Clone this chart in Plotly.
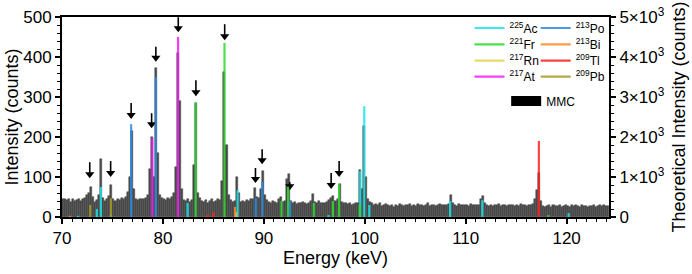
import plotly.graph_objects as go

# ---------------- MMC histogram (counts), bins of 0.2 keV starting at 70.0 keV ----------------
mmc_start = 70.1
mmc_bin = 0.2
mmc_counts = [
    44, 46, 42, 45, 38, 44, 41, 43, 46, 40,      # 70-72
    45, 48, 56, 60, 75, 50, 38, 42, 55, 145,     # 72-74
    48, 40, 45, 52, 80, 45, 40, 46, 42, 48,      # 74-76
    44, 50, 62, 100, 215, 70, 45, 42, 46, 44,    # 76-78
    45, 48, 55, 120, 200, 100, 372, 160, 55, 48, # 78-80
    45, 42, 48, 44, 50, 60, 125, 410, 290, 70,   # 80-82
    42, 40, 46, 38, 42, 130, 285, 60, 48, 40,    # 82-84
    38, 42, 36, 40, 44, 38, 40, 44, 42, 90,      # 84-86
    362, 180, 55, 42, 38, 40, 100, 60, 38, 40,   # 86-88
    38, 42, 40, 44, 46, 72, 50, 48, 70, 115,     # 88-90
    55, 42, 38, 36, 40, 38, 36, 45, 50, 38,      # 90-92
    40, 95, 107, 40, 36, 38, 32, 36, 34, 38,     # 92-94
    35, 32, 36, 40, 57, 38, 36, 40, 36, 34,      # 94-96
    36, 38, 42, 48, 52, 40, 45, 82, 38, 34,      # 96-98
    36, 32, 34, 30, 32, 34, 36, 118, 70, 227,    # 98-100
    100, 45, 38, 34, 30, 32, 30, 34, 28, 30,     # 100-102
    32, 30, 28, 30, 26, 30, 28, 32, 30, 28,      # 102-104
    31, 29, 33, 28, 30, 27, 32, 29, 31, 28,      # 104-106
    30, 34, 28, 29, 31, 27, 30, 33, 29, 31,      # 106-108
    30, 32, 55, 35, 30, 28, 32, 30, 29, 31,      # 108-110
    30, 28, 32, 30, 29, 31, 30, 45, 52, 35,      # 110-112
    30, 28, 31, 27, 29, 30, 32, 28, 30, 29,      # 112-114
    28, 30, 29, 31, 27, 30, 28, 32, 29, 30,      # 114-116
    28, 30, 29, 32, 45, 67, 110, 40, 28, 26,     # 116-118
    27, 29, 26, 30, 28, 27, 29, 26, 28, 30,      # 118-120
    28, 26, 29, 27, 30, 28, 26, 29, 27, 28,      # 120-122
    26, 28, 27, 29, 26, 28, 30, 27, 29, 28,      # 122-124
    27,
]

# ---------------- Theoretical lines (energy keV, intensity counts) ----------------
ac225_E = [71.6, 73.45, 73.85, 74.85, 82.45, 87.4, 96.4, 99.55, 99.95, 100.45, 108.45, 111.65, 120.2]
ac225_I = [30, 200, 750, 60, 350, 670, 50, 1150, 2770, 300, 400, 420, 100]
fr221_E = [83.25, 86.1, 91.75, 92.4, 94.95, 96.85, 97.45, 99.5, 118.2]
fr221_I = [2850, 4350, 400, 760, 350, 400, 820, 300, 50]
rn217_E = [87.25]
rn217_I = [120]
at217_E = [78.95, 81.5]
at217_I = [1980, 4500]
po213_E = [76.85, 79.3, 89.2, 89.85, 92.6]
po213_I = [2320, 3500, 470, 880, 400]
bi213_E = [70.8, 87.15]
bi213_I = [30, 250]
tl209_E = [84.45, 85.0, 117.25]
tl209_I = [60, 120, 1900]
pb209_E = [72.8, 74.85]
pb209_I = [300, 470]

# ---------------- Arrows (energy keV, tip height counts, shaft length px) ----------------
arrow_E = [72.75, 74.82, 76.85, 78.88, 79.3, 81.52, 83.27, 86.12, 89.17, 89.83, 92.57, 96.67, 97.46]
arrow_tip = [97, 100, 245, 222, 388, 462, 302, 442, 85, 132, 67, 70, 100]
arrow_len = [16, 16, 16, 15, 15, 15, 16, 16, 15, 15, 8, 16, 16]

# name, energies, intensities, colour, legend id, legend x, legend row centre (paper)
isotopes = [
    ("<sup>225</sup>Ac", ac225_E, ac225_I, "#19E6EC", "legend", 0.745, 0.945),
    ("<sup>221</sup>Fr", fr221_E, fr221_I, "#2EDB2E", "legend2", 0.745, 0.863),
    ("<sup>217</sup>Rn", rn217_E, rn217_I, "#E6D24A", "legend3", 0.745, 0.782),
    ("<sup>217</sup>At", at217_E, at217_I, "#F41CF4", "legend4", 0.745, 0.702),
    ("<sup>213</sup>Po", po213_E, po213_I, "#2A8AE0", "legend5", 0.866, 0.945),
    ("<sup>213</sup>Bi", bi213_E, bi213_I, "#FF8A2A", "legend6", 0.866, 0.863),
    ("<sup>209</sup>Tl", tl209_E, tl209_I, "#FF2222", "legend7", 0.866, 0.782),
    ("<sup>209</sup>Pb", pb209_E, pb209_I, "#A89A22", "legend8", 0.866, 0.702),
]

FONT = "Liberation Sans, Arial, sans-serif"
PX_PER_COUNT = 200 / 500.0  # plot height px / left-axis span

fig = go.Figure()

fig.add_trace(go.Bar(
    y=mmc_counts, x0=mmc_start, dx=mmc_bin,
    marker=dict(color="#484848", line=dict(width=0.5, color="#484848")),
    showlegend=False, yaxis="y",
))

leg_common = dict(
    bgcolor="rgba(0,0,0,0)", borderwidth=0, font=dict(size=12, color="black", family=FONT),
    itemwidth=30, tracegroupgap=0, xanchor="left", yanchor="middle",
    itemclick=False, itemdoubleclick=False,
)
legends = {}

for name, E, I, col, leg, lx, ly in isotopes:
    xs, ys = [], []
    for e, v in zip(E, I):
        xs += [e, e, None]
        ys += [0, v, None]
    fig.add_trace(go.Scatter(
        x=xs, y=ys, mode="lines", name=name, yaxis="y2",
        line=dict(color=col, width=2.2), opacity=0.85, legend=leg,
    ))
    legends[leg] = dict(**leg_common, x=lx, y=ly)

# legend-only entry for MMC
fig.add_trace(go.Scatter(
    x=[None], y=[None], mode="lines", name="MMC", yaxis="y2",
    line=dict(color="black", width=11), legend="legend9",
))
legends["legend9"] = dict(**leg_common, x=0.812, y=0.58)

# arrows: shaft lines + triangle heads, on the left (counts) axis
head_off = 4 / PX_PER_COUNT
sx, sy, hx, hy = [], [], [], []
for e, t, L in zip(arrow_E, arrow_tip, arrow_len):
    sx += [e, e, None]
    sy += [t + head_off, t + L / PX_PER_COUNT, None]
    hx.append(e)
    hy.append(t + head_off)
fig.add_trace(go.Scatter(x=sx, y=sy, mode="lines", line=dict(color="black", width=1.6),
                         showlegend=False, yaxis="y", hoverinfo="skip"))
fig.add_trace(go.Scatter(x=hx, y=hy, mode="markers",
                         marker=dict(symbol="triangle-down", size=8, color="black"),
                         showlegend=False, yaxis="y", hoverinfo="skip"))

axis_common = dict(
    showline=True, linecolor="black", linewidth=2, showgrid=False, zeroline=False,
    ticks="outside", ticklen=5, tickwidth=1.5, tickcolor="black", automargin=False,
    tickfont=dict(size=17, color="black", family=FONT),
)

fig.update_layout(
    width=692, height=274,
    margin=dict(l=62, r=83, t=17, b=57, pad=0, autoexpand=False),
    paper_bgcolor="white", plot_bgcolor="white",
    font=dict(family=FONT, color="black"),
    barmode="overlay", bargap=0,
    xaxis=dict(
        **axis_common, range=[70, 124.2], tick0=70, dtick=10, mirror=True,
        minor=dict(dtick=1, ticklen=3, ticks="outside", tickcolor="black", tickwidth=1.2),
        title=dict(text="Energy (keV)", font=dict(size=18, family=FONT), standoff=1),
    ),
    yaxis=dict(
        **axis_common, range=[0, 500], tick0=0, dtick=100,
        minor=dict(dtick=20, ticklen=3, ticks="outside", tickcolor="black", tickwidth=1.2),
        title=dict(text="Intensity (counts)", font=dict(size=18, family=FONT), standoff=0),
    ),
    yaxis2=dict(
        **axis_common, range=[0, 5000], overlaying="y", side="right",
        tickvals=[0, 1000, 2000, 3000, 4000, 5000],
        ticktext=["0", "1×10<sup>3</sup>", "2×10<sup>3</sup>", "3×10<sup>3</sup>",
                  "4×10<sup>3</sup>", "5×10<sup>3</sup>"],
        minor=dict(dtick=200, ticklen=3, ticks="outside", tickcolor="black", tickwidth=1.2),
        title=dict(text="Theoretical Intensity (counts)", font=dict(size=18, family=FONT), standoff=9),
    ),
    **legends,
)

fig.write_html("out.html")
